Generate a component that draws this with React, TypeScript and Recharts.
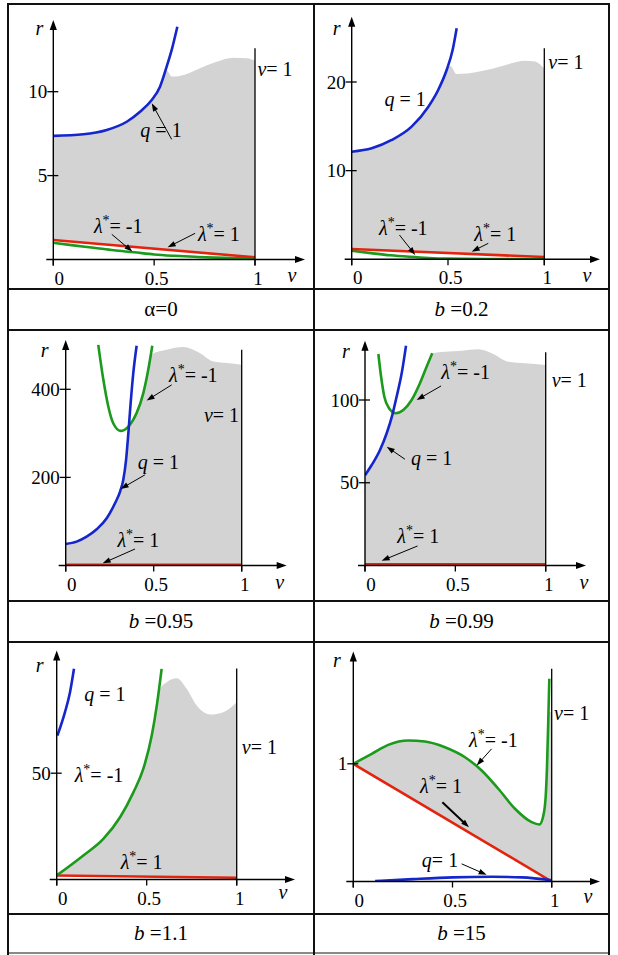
import React from "react";
import {
  Area,
  ComposedChart,
  Line,
  ReferenceDot,
  ReferenceLine,
  XAxis,
  YAxis,
} from "recharts";

const BLUE = "#1426cc";
const RED = "#e4230f";
const GREEN = "#1b9a1b";
const GRAY = "#d3d3d3";
const SERIF =
  "'Liberation Serif', 'Times New Roman', Tinos, 'Noto Serif', 'DejaVu Serif', FreeSerif, 'Nimbus Roman', Times, serif";

const AXIS_W = 20;
const AXIS_H = 20;

type Pt = [number, number];
type Band = [number, number, number];
// [kind, v, r, anchor]
type Note = [string, number, number, string];
// [v1, r1, v2, r2, strokeWidth]
type Arrow = [number, number, number, number, number?];

const X_TICKS = [0, 0.5, 1];

// ---- α = 0 ----
const alphaTicks = [5, 10];
const alphaBlue: Pt[] = [
  [0, 7.37], [0.149, 7.46], [0.265, 7.72], [0.364, 8.21], [0.43, 8.81],
  [0.488, 9.5], [0.529, 10.3], [0.562, 11.49], [0.587, 12.49], [0.615, 13.87],
];
const alphaRed: Pt[] = [[0, 1.16], [1, 0.13]];
const alphaGreen: Pt[] = [
  [0, 1.0], [0.1, 0.84], [0.2, 0.7], [0.3, 0.55], [0.4, 0.43], [0.5, 0.3],
  [0.6, 0.22], [0.7, 0.16], [0.8, 0.11], [0.9, 0.08], [1, 0.07],
];
const alphaGray: Band[] = [
  [0, 1.16, 7.37], [0.149, 1.01, 7.46], [0.265, 0.89, 7.72], [0.364, 0.79, 8.21],
  [0.43, 0.72, 8.81], [0.488, 0.66, 9.5], [0.529, 0.62, 10.3], [0.558, 0.59, 11.3],
  [0.59, 0.55, 10.9], [0.62, 0.52, 10.92], [0.661, 0.48, 11.05], [0.727, 0.41, 11.4],
  [0.81, 0.33, 11.79], [0.892, 0.24, 12.03], [0.958, 0.17, 11.99], [1, 0.13, 11.85],
];
const alphaNotes: Note[] = [
  ["q", 0.534, 7.3, "middle"],
  ["lm", 0.322, 1.56, "middle"],
  ["lp", 0.821, 1.12, "middle"],
  ["v", 1.012, 10.94, "start"],
];
const alphaArrows: Arrow[] = [
  [0.587, 7.16, 0.488, 9.31],
  [0.29, 1.5, 0.392, 0.47],
  [0.703, 1.56, 0.567, 0.73],
];

// ---- b = 0.2 ----
const b02Ticks = [10, 20];
const b02Blue: Pt[] = [
  [0, 12.14], [0.104, 12.52], [0.208, 13.46], [0.311, 14.96], [0.398, 17.21],
  [0.449, 19.1], [0.493, 21.35], [0.524, 23.6], [0.545, 26.06],
];
const b02Red: Pt[] = [[0, 1.16], [1, 0.26]];
const b02Green: Pt[] = [
  [0, 0.97], [0.1, 0.7], [0.2, 0.45], [0.3, 0.28], [0.4, 0.15], [0.5, 0.08],
  [0.7, 0.04], [1, 0.03],
];
const b02Gray: Band[] = [
  [0, 1.16, 12.14], [0.104, 1.07, 12.52], [0.208, 0.97, 13.46], [0.311, 0.88, 14.96],
  [0.398, 0.8, 17.21], [0.449, 0.76, 19.1], [0.49, 0.72, 21.2], [0.512, 0.7, 21.8],
  [0.545, 0.67, 20.9], [0.6, 0.62, 20.95], [0.657, 0.57, 21.17], [0.73, 0.5, 21.5],
  [0.796, 0.44, 21.9], [0.9, 0.35, 22.4], [0.952, 0.3, 22.3], [1, 0.26, 21.5],
];
const b02Notes: Note[] = [
  ["q", 0.277, 17.3, "middle"],
  ["lm", 0.268, 2.74, "middle"],
  ["lp", 0.745, 2.1, "middle"],
  ["v", 1.021, 21.5, "start"],
];
const b02Arrows: Arrow[] = [
  [0.248, 2.74, 0.33, 0.49],
  [0.709, 1.8, 0.623, 0.86],
];

// ---- b = 0.95 ----
const b095Ticks = [200, 400];
const b095Blue: Pt[] = [
  [0, 48.9], [0.062, 54.2], [0.119, 65.5], [0.176, 82.2], [0.233, 107.2],
  [0.28, 141.3], [0.309, 167.8], [0.327, 194.3], [0.343, 239.8], [0.356, 300.4],
  [0.369, 368.6], [0.384, 436.8], [0.403, 498.9],
];
const b095Green: Pt[] = [
  [0.185, 501], [0.214, 421.6], [0.242, 361], [0.27, 323], [0.312, 305.7],
  [0.356, 315.5], [0.403, 346], [0.441, 391.4], [0.469, 444.3], [0.492, 498.9],
];
const b095Red: Pt[] = [[0, 1.5], [1, 1.5]];
const b095Gray: Band[] = [
  [0, 1.5, 48.9], [0.062, 1.5, 54.2], [0.119, 1.5, 65.5], [0.176, 1.5, 82.2],
  [0.233, 1.5, 107.2], [0.28, 1.5, 141.3], [0.309, 1.5, 167.8], [0.327, 1.5, 194.3],
  [0.343, 1.5, 239.8], [0.356, 1.5, 310], [0.403, 1.5, 346], [0.441, 1.5, 391.4],
  [0.469, 1.5, 444.3], [0.492, 1.5, 480], [0.574, 1.5, 489.8], [0.668, 1.5, 495.9],
  [0.763, 1.5, 482], [0.839, 1.5, 463], [0.915, 1.5, 459.5], [1, 1.5, 455.7],
];
const b095Notes: Note[] = [
  ["lm", 0.725, 415.5, "middle"],
  ["q", 0.526, 218.6, "middle"],
  ["lp", 0.413, 42.8, "middle"],
  ["v", 0.985, 326.8, "end"],
];
const b095Arrows: Arrow[] = [
  [0.602, 410, 0.46, 374.6],
  [0.45, 205.7, 0.312, 173.9],
  [0.394, 37.5, 0.21, 5],
];

// ---- b = 0.99 ----
const b099Ticks = [50, 100];
const b099Blue: Pt[] = [
  [0, 54.5], [0.037, 60.7], [0.083, 69.8], [0.12, 79.9], [0.151, 90.9],
  [0.175, 102], [0.203, 116.1], [0.227, 132.8],
];
const b099Green: Pt[] = [
  [0.074, 127.8], [0.089, 114.1], [0.107, 102], [0.133, 95], [0.17, 92],
  [0.212, 94], [0.258, 100], [0.304, 110.1], [0.341, 120.1], [0.372, 128.2],
];
const b099Red: Pt[] = [[0, 0.8], [1, 0.8]];
const b099Gray: Band[] = [
  [0, 0.8, 54.5], [0.037, 0.8, 60.7], [0.083, 0.8, 69.8], [0.12, 0.8, 79.9],
  [0.151, 0.8, 90.9], [0.17, 0.8, 92], [0.212, 0.8, 94], [0.258, 0.8, 100],
  [0.304, 0.8, 110.1], [0.341, 0.8, 120.1], [0.372, 0.8, 128.2], [0.443, 0.8, 129.2],
  [0.535, 0.8, 129.8], [0.627, 0.8, 130.6], [0.701, 0.8, 128.2], [0.793, 0.8, 123.1],
  [0.885, 0.8, 122.2], [1, 0.8, 121.2],
];
const b099Notes: Note[] = [
  ["lm", 0.557, 112.5, "middle"],
  ["q", 0.369, 60.7, "middle"],
  ["lp", 0.295, 13.8, "middle"],
  ["v", 1.033, 108, "start"],
];
const b099Arrows: Arrow[] = [
  [0.421, 108.5, 0.286, 100],
  [0.221, 64.2, 0.12, 71.8],
  [0.291, 11.8, 0.092, 2.9],
];

// ---- b = 1.1 ----
const b11Ticks = [50];
const b11Blue: Pt[] = [[0.004, 67.7], [0.046, 78.7], [0.074, 88.1], [0.096, 99.1]];
const b11Green: Pt[] = [
  [0, 1.9], [0.148, 11.3], [0.259, 19.1], [0.352, 29.3], [0.426, 41],
  [0.481, 52], [0.528, 67.7], [0.556, 81.8], [0.583, 99.1],
];
const b11Red: Pt[] = [[0, 1.9], [1, 0.8]];
const b11Gray: Band[] = [
  [0, 1.9, 1.9], [0.148, 1.74, 11.3], [0.259, 1.62, 19.1], [0.352, 1.51, 29.3],
  [0.426, 1.43, 41], [0.481, 1.37, 52], [0.528, 1.32, 67.7], [0.556, 1.29, 81.8],
  [0.57, 1.27, 88.9], [0.611, 1.23, 92.8], [0.667, 1.17, 94.7], [0.722, 1.11, 89.7],
  [0.778, 1.04, 81.8], [0.852, 0.96, 77.6], [0.926, 0.88, 78.7], [1, 0.8, 83.4],
];
const b11Notes: Note[] = [
  ["q", 0.268, 83.8, "middle"],
  ["lm", 0.235, 45.7, "middle"],
  ["lp", 0.472, 5, "middle"],
  ["v", 1.028, 59.1, "start"],
];
const b11Arrows: Arrow[] = [];

// ---- b = 15 ----
const b15Ticks = [1];
const b15Red: Pt[] = [[0, 1], [1, 0]];
const b15Green: Pt[] = [
  [0, 1], [0.093, 1.085], [0.176, 1.161], [0.277, 1.198], [0.361, 1.19],
  [0.462, 1.141], [0.563, 1.056], [0.647, 0.943], [0.731, 0.788], [0.815, 0.618],
  [0.899, 0.504], [0.938, 0.484], [0.958, 0.561], [0.97, 0.731], [0.976, 0.958],
  [0.983, 1.382], [0.988, 1.722],
];
const b15Blue: Pt[] = [
  [0.11, 0.003], [0.3, 0.02], [0.5, 0.035], [0.7, 0.04], [0.85, 0.035], [1, 0.01],
];
const b15Gray: Band[] = [
  [0, 1, 1], [0.093, 0.907, 1.085], [0.176, 0.824, 1.161], [0.277, 0.723, 1.198],
  [0.361, 0.639, 1.19], [0.462, 0.538, 1.141], [0.563, 0.437, 1.056],
  [0.647, 0.353, 0.943], [0.731, 0.269, 0.788], [0.815, 0.185, 0.618],
  [0.899, 0.101, 0.504], [0.938, 0.062, 0.484], [0.958, 0.042, 0.561],
  [0.97, 0.03, 0.731], [0.976, 0.024, 1.0], [0.982, 0.018, 1.44], [1, 0, 1.44],
];
const b15Notes: Note[] = [
  ["lm", 0.706, 1.141, "middle"],
  ["lp", 0.442, 0.753, "middle"],
  ["qt", 0.437, 0.122, "middle"],
  ["v", 1.012, 1.368, "start"],
];
const b15Arrows: Arrow[] = [
  [0.697, 1.127, 0.622, 0.986],
  [0.449, 0.674, 0.583, 0.461, 2],
  [0.546, 0.15, 0.672, 0.057],
];

// page layout of each panel (pixels)
const LAYOUT = {
  alpha: { box: { x: 9, y: 5, w: 304, h: 283 }, x0: 53.3, x1: 255, yb: 259.5, yRef: 91.7, rRef: 10, xTip: 305, yTip: 20, vTop: 12.59, rOff: [-14, 10], vOff: [-13, 17.5] },
  b02: { box: { x: 315, y: 5, w: 293, h: 283 }, x0: 351.7, x1: 544.3, yb: 259.3, yRef: 82, rRef: 20, xTip: 600, yTip: 16.7, vTop: 23.8, rOff: [-15, 13], vOff: [-13, 17.5] },
  b095: { box: { x: 9, y: 331, w: 304, h: 268.5 }, x0: 65.7, x1: 241.7, yb: 565.5, yRef: 389.3, rRef: 400, xTip: 286.7, yTip: 340, vTop: 489.8, rOff: [-21, 12], vOff: [-7, 18] },
  b099: { box: { x: 315, y: 331, w: 293, h: 268.5 }, x0: 365, x1: 545.7, yb: 565.5, yRef: 400, rRef: 100, xTip: 586, yTip: 340.7, vTop: 128.8, rOff: [-19, 12.5], vOff: [-2, 18] },
  b11: { box: { x: 9, y: 642.5, w: 304, h: 270.5 }, x0: 56.7, x1: 236.7, yb: 879, yRef: 772.7, rRef: 50, xTip: 295, yTip: 650, vTop: 99.3, rOff: [-17, 16.5], vOff: [-12, 14.5] },
  b15: { box: { x: 315, y: 642.5, w: 293, h: 270.5 }, x0: 353.3, x1: 551.7, yb: 881, yRef: 763.3, rRef: 1, xTip: 600, yTip: 651, vTop: 1.807, rOff: [-16.5, 10.5], vOff: [-12, 16] },
};

const toPts = (a: Pt[]) => a.map(([v, r]) => ({ v, r }));

function arrowShape(head: number, half: number, sw: number, ext: number) {
  return (p: any) => {
    const { x1, y1, x2, y2 } = p;
    const dx = x2 - x1;
    const dy = y2 - y1;
    const len = Math.hypot(dx, dy) || 1;
    const ux = dx / len;
    const uy = dy / len;
    const bx = x2 - ux * head;
    const by = y2 - uy * head;
    return (
      <g>
        <line
          x1={x1 - ux * ext}
          y1={y1 - uy * ext}
          x2={head ? bx + ux : x2}
          y2={head ? by + uy : y2}
          stroke="#000"
          strokeWidth={sw}
        />
        {head > 0 && (
          <polygon
            points={`${x2},${y2} ${bx - uy * half},${by + ux * half} ${bx + uy * half},${by - ux * half}`}
            fill="#000"
          />
        )}
      </g>
    );
  };
}

function NoteText({ kind, x, y, anchor }: { kind: string; x: number; y: number; anchor: any }) {
  const common = { x, y, textAnchor: anchor, fill: "#000", style: { fontFamily: SERIF, fontSize: 20 } };
  if (kind === "q" || kind === "qt")
    return (
      <text {...common}>
        <tspan fontStyle="italic">q</tspan>
        {kind === "q" ? " = 1" : "= 1"}
      </text>
    );
  if (kind === "v")
    return (
      <text {...common}>
        <tspan fontStyle="italic">v</tspan>= 1
      </text>
    );
  return (
    <text {...common}>
      <tspan fontStyle="italic">λ</tspan>
      <tspan dy={-8} fontSize={14}>*</tspan>
      <tspan dy={8}>{kind === "lm" ? "= -1" : "= 1"}</tspan>
    </text>
  );
}

function renderXTick(p: any) {
  const v = p.payload.value;
  const dx = v === 0 ? 6 : v === 1 ? 3 : 2.5;
  return (
    <g>
      <line x1={p.x} y1={p.y} x2={p.x} y2={p.y + 6} stroke="#000" strokeWidth={1.3} />
      <text x={p.x + dx} y={p.y + 25} textAnchor="middle" fill="#000" style={{ fontFamily: SERIF, fontSize: 19 }}>
        {String(v)}
      </text>
    </g>
  );
}

function renderYTick(p: any) {
  return (
    <g>
      <line x1={p.x - 6} y1={p.y} x2={p.x + 5} y2={p.y} stroke="#000" strokeWidth={1.3} />
      <text x={p.x - 6} y={p.y + 6.5} textAnchor="end" fill="#000" style={{ fontFamily: SERIF, fontSize: 19 }}>
        {String(p.payload.value)}
      </text>
    </g>
  );
}

type Curve = { pts: Pt[]; color: string };

function Panel({
  lay,
  yTicks,
  gray,
  curves,
  notes,
  arrows,
}: {
  lay: any;
  yTicks: number[];
  gray: Band[];
  curves: Curve[];
  notes: Note[];
  arrows: Arrow[];
}) {
  const kx = lay.x1 - lay.x0;
  const ky = (lay.yb - lay.yRef) / lay.rRef;
  const vMax = (lay.xTip - lay.x0) / kx;
  const rMax = (lay.yb - lay.yTip) / ky;
  const { x, y, w, h } = lay.box;
  const margin = {
    left: lay.x0 - x - AXIS_W,
    right: x + w - lay.xTip,
    top: lay.yTip - y,
    bottom: y + h - lay.yb - AXIS_H,
  };
  const bandData = gray.map(([v, lo, hi]) => ({ v, band: [lo, hi] }));
  const labelStyle = { fontFamily: SERIF, fontSize: 20, fontStyle: "italic" };

  return (
    <div style={{ position: "absolute", left: x, top: y, width: w, height: h }}>
      <ComposedChart width={w} height={h} margin={margin}>
        <XAxis
          type="number"
          dataKey="v"
          domain={[0, vMax]}
          allowDataOverflow
          ticks={X_TICKS}
          interval={0}
          axisLine={false}
          tickLine={false}
          tickSize={0}
          tickMargin={0}
          height={AXIS_H}
          tick={renderXTick}
        />
        <YAxis
          type="number"
          domain={[0, rMax]}
          allowDataOverflow
          ticks={yTicks}
          interval={0}
          axisLine={false}
          tickLine={false}
          tickSize={0}
          tickMargin={0}
          width={AXIS_W}
          tick={renderYTick}
        />
        <Area
          data={bandData}
          dataKey="band"
          type="monotone"
          stroke="none"
          fill={GRAY}
          fillOpacity={1}
          isAnimationActive={false}
        />
        {curves.map((c, i) => (
          <Line
            key={i}
            data={toPts(c.pts)}
            dataKey="r"
            type="monotone"
            stroke={c.color}
            strokeWidth={2.6}
            dot={false}
            activeDot={false}
            isAnimationActive={false}
          />
        ))}
        <ReferenceLine
          segment={[{ x: 1, y: 0 }, { x: 1, y: lay.vTop }]}
          ifOverflow="visible"
          shape={arrowShape(0, 0, 1.3, 6)}
        />
        <ReferenceLine
          segment={[{ x: 0, y: 0 }, { x: vMax, y: 0 }]}
          ifOverflow="visible"
          shape={arrowShape(10, 3.6, 1.4, 7)}
        />
        <ReferenceLine
          segment={[{ x: 0, y: 0 }, { x: 0, y: rMax }]}
          ifOverflow="visible"
          shape={arrowShape(10, 3.6, 1.4, 6)}
        />
        {arrows.map(([v1, r1, v2, r2, sw], i) => (
          <ReferenceLine
            key={`a${i}`}
            segment={[{ x: v1, y: r1 }, { x: v2, y: r2 }]}
            ifOverflow="visible"
            shape={arrowShape(8, 2.8, sw ?? 1, 0)}
          />
        ))}
        {notes.map(([kind, v, r, anchor], i) => (
          <ReferenceDot
            key={`n${i}`}
            x={v}
            y={r}
            r={0}
            ifOverflow="visible"
            shape={(p: any) => <NoteText kind={kind} x={p.cx} y={p.cy} anchor={anchor} />}
          />
        ))}
        <ReferenceDot
          x={0}
          y={rMax}
          r={0}
          ifOverflow="visible"
          shape={(p: any) => (
            <text x={p.cx + lay.rOff[0]} y={p.cy + lay.rOff[1] + 5} textAnchor="middle" style={labelStyle}>
              r
            </text>
          )}
        />
        <ReferenceDot
          x={vMax}
          y={0}
          r={0}
          ifOverflow="visible"
          shape={(p: any) => (
            <text x={p.cx + lay.vOff[0]} y={p.cy + lay.vOff[1] + 5} textAnchor="middle" style={labelStyle}>
              v
            </text>
          )}
        />
      </ComposedChart>
    </div>
  );
}

const H_LINES = [4, 289, 330, 600.5, 641.5, 914];
const V_LINES = [8, 314, 609];

function Caption({ x, y, w, h, children }: any) {
  return (
    <div
      style={{
        position: "absolute",
        left: x,
        top: y,
        width: w,
        height: h,
        display: "flex",
        alignItems: "center",
        justifyContent: "center",
        fontFamily: SERIF,
        fontSize: 21,
        color: "#000",
      }}
    >
      {children}
    </div>
  );
}

export default function App() {
  return (
    <div style={{ position: "absolute", left: 0, top: 0, width: 618, height: 955, background: "#fff", fontFamily: SERIF }}>
      <Panel
        lay={LAYOUT.alpha}
        yTicks={alphaTicks}
        gray={alphaGray}
        curves={[
          { pts: alphaGreen, color: GREEN },
          { pts: alphaRed, color: RED },
          { pts: alphaBlue, color: BLUE },
        ]}
        notes={alphaNotes}
        arrows={alphaArrows}
      />
      <Panel
        lay={LAYOUT.b02}
        yTicks={b02Ticks}
        gray={b02Gray}
        curves={[
          { pts: b02Green, color: GREEN },
          { pts: b02Red, color: RED },
          { pts: b02Blue, color: BLUE },
        ]}
        notes={b02Notes}
        arrows={b02Arrows}
      />
      <Panel
        lay={LAYOUT.b095}
        yTicks={b095Ticks}
        gray={b095Gray}
        curves={[
          { pts: b095Red, color: RED },
          { pts: b095Green, color: GREEN },
          { pts: b095Blue, color: BLUE },
        ]}
        notes={b095Notes}
        arrows={b095Arrows}
      />
      <Panel
        lay={LAYOUT.b099}
        yTicks={b099Ticks}
        gray={b099Gray}
        curves={[
          { pts: b099Red, color: RED },
          { pts: b099Green, color: GREEN },
          { pts: b099Blue, color: BLUE },
        ]}
        notes={b099Notes}
        arrows={b099Arrows}
      />
      <Panel
        lay={LAYOUT.b11}
        yTicks={b11Ticks}
        gray={b11Gray}
        curves={[
          { pts: b11Red, color: RED },
          { pts: b11Green, color: GREEN },
          { pts: b11Blue, color: BLUE },
        ]}
        notes={b11Notes}
        arrows={b11Arrows}
      />
      <Panel
        lay={LAYOUT.b15}
        yTicks={b15Ticks}
        gray={b15Gray}
        curves={[
          { pts: b15Red, color: RED },
          { pts: b15Green, color: GREEN },
          { pts: b15Blue, color: BLUE },
        ]}
        notes={b15Notes}
        arrows={b15Arrows}
      />

      <Caption x={9} y={290} w={304} h={39}>α=0</Caption>
      <Caption x={315} y={290} w={293} h={39}>
        <i>b</i>&nbsp;=0.2
      </Caption>
      <Caption x={9} y={601.5} w={304} h={39}>
        <i>b</i>&nbsp;=0.95
      </Caption>
      <Caption x={315} y={601.5} w={293} h={39}>
        <i>b</i>&nbsp;=0.99
      </Caption>
      <Caption x={9} y={915} w={304} h={37}>
        <i>b</i>&nbsp;=1.1
      </Caption>
      <Caption x={315} y={915} w={293} h={37}>
        <i>b</i>&nbsp;=15
      </Caption>

      {H_LINES.map((yy) => (
        <div key={`h${yy}`} style={{ position: "absolute", left: 7, top: yy - 1, width: 603, height: 2, background: "#111" }} />
      ))}
      <div style={{ position: "absolute", left: 7, top: 952, width: 603, height: 1.5, background: "#8a8a8a" }} />
      {V_LINES.map((xx) => (
        <div key={`v${xx}`} style={{ position: "absolute", left: xx - 1, top: 3, width: 2, height: 952, background: "#111" }} />
      ))}
    </div>
  );
}
